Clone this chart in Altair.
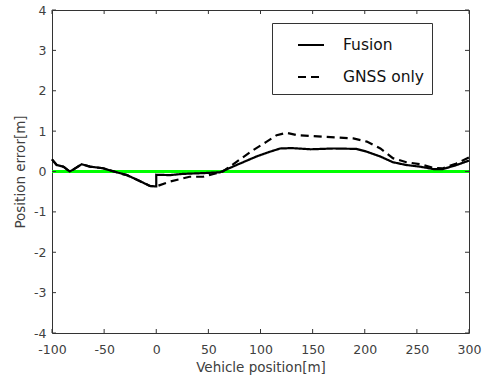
import altair as alt
import pandas as pd

# ---- data ----
fusion_x = [-100, -95.5, -89, -83, -79.5, -71.5, -63.5, -51, -38, -28, -15.5, -6, 0, 0,
            13, 25, 45, 61, 77, 96, 109, 119, 130, 148, 170, 192, 202, 215, 227, 240,
            253, 266, 275, 288, 300]
fusion_y = [0.30, 0.16, 0.12, 0.00, 0.05, 0.18, 0.12, 0.08, -0.02, -0.09, -0.24, -0.36, -0.37, -0.08,
            -0.09, -0.06, -0.04, -0.02, 0.16, 0.37, 0.49, 0.57, 0.58, 0.55, 0.57, 0.56, 0.49, 0.37,
            0.23, 0.16, 0.12, 0.06, 0.06, 0.16, 0.27]

gnss_x = [-100, -95.5, -89, -83, -79.5, -71.5, -63.5, -51, -38, -28, -15.5, -6, 0,
          13, 32, 45, 55, 64, 77, 93, 106, 115.5, 125, 135, 147.5, 176, 189, 202, 215,
          227, 240, 253, 266, 275, 288, 300]
gnss_y = [0.30, 0.16, 0.12, 0.00, 0.05, 0.18, 0.12, 0.08, -0.02, -0.09, -0.24, -0.36, -0.37,
          -0.25, -0.13, -0.13, -0.06, 0.00, 0.24, 0.53, 0.74, 0.90, 0.96, 0.90, 0.88, 0.84,
          0.82, 0.74, 0.57, 0.33, 0.23, 0.18, 0.09, 0.08, 0.20, 0.35]

series_names = ["Fusion", "GNSS only"]
x_ticks = [-100, -50, 0, 50, 100, 150, 200, 250, 300]
y_ticks = [-4, -3, -2, -1, 0, 1, 2, 3, 4]
ref_value = [0]

W, H = 417, 323
TICK = 4
FONT = "DejaVu Sans"
TXT = "#404040"
FRAME = "#333333"

rows = []
for i, (x, y) in enumerate(zip(fusion_x, fusion_y)):
    rows.append({"series": series_names[0], "x": x, "y": y, "order": i})
for i, (x, y) in enumerate(zip(gnss_x, gnss_y)):
    rows.append({"series": series_names[1], "x": x, "y": y, "order": i})
df = pd.DataFrame(rows)

xscale = alt.Scale(domain=[-100, 300], nice=False, zero=False)
yscale = alt.Scale(domain=[-4, 4], nice=False, zero=False)

xaxis = alt.Axis(values=x_ticks, ticks=False, domain=False, grid=False, labelFont=FONT,
                 labelFontSize=12.5, labelColor=TXT, labelPadding=10, labelFlush=False,
                 labelExpr="'' + datum.value",
                 title="Vehicle position[m]", titleFont=FONT, titleFontSize=13.5,
                 titleFontWeight="normal", titleColor=TXT, titlePadding=5)
yaxis = alt.Axis(values=y_ticks, ticks=False, domain=False, grid=False, labelFont=FONT,
                 labelFontSize=12.5, labelColor=TXT, labelPadding=6, labelFlush=False,
                 labelExpr="'' + datum.value",
                 title="Position error[m]", titleFont=FONT, titleFontSize=13.5,
                 titleFontWeight="normal", titleColor=TXT, titlePadding=6)


def X(field):
    return alt.X(field, type="quantitative", scale=xscale, axis=xaxis)


def Y(field):
    return alt.Y(field, type="quantitative", scale=yscale, axis=yaxis)


green = alt.Chart(pd.DataFrame({"v": ref_value})).mark_rule(color="#00ff00", strokeWidth=3).encode(
    y=Y("v"),
    x=alt.value(0), x2=alt.value(W),
)

lines = alt.Chart(df).mark_line(color="black", strokeWidth=2.2).encode(
    x=X("x"),
    y=Y("y"),
    order="order:Q",
    strokeDash=alt.StrokeDash(
        "series:N",
        scale=alt.Scale(domain=series_names, range=[[1, 0], [8, 5]]),
        legend=alt.Legend(
            title=None, orient="none", legendX=220, legendY=13,
            strokeColor=FRAME, fillColor="white", padding=8,
            symbolType="stroke", symbolSize=676, symbolStrokeWidth=2,
            symbolStrokeColor="black", symbolOffset=17, labelOffset=18,
            labelFont=FONT, labelFontSize=15.5, labelColor="#111111",
            rowPadding=9,
        ),
    ),
)

xt = pd.DataFrame({"t": x_ticks})
yt = pd.DataFrame({"t": y_ticks})
tb = alt.Chart(xt).mark_rule(color=FRAME, strokeWidth=1).encode(
    x=X("t"), y=alt.value(H), y2=alt.value(H - TICK))
tt = alt.Chart(xt).mark_rule(color=FRAME, strokeWidth=1).encode(
    x=X("t"), y=alt.value(0), y2=alt.value(TICK))
tl = alt.Chart(yt).mark_rule(color=FRAME, strokeWidth=1).encode(
    y=Y("t"), x=alt.value(0), x2=alt.value(TICK))
tr = alt.Chart(yt).mark_rule(color=FRAME, strokeWidth=1).encode(
    y=Y("t"), x=alt.value(W), x2=alt.value(W - TICK))

chart = alt.layer(green, lines, tb, tt, tl, tr).properties(
    width=W, height=H,
    autosize=alt.AutoSizeParams(type="none"),
    padding={"left": 52, "top": 10, "right": 19, "bottom": 44},
    background="white",
).configure_view(stroke=FRAME, strokeWidth=1)

chart.save("out.html", embed_options={"renderer": "svg", "actions": False})
